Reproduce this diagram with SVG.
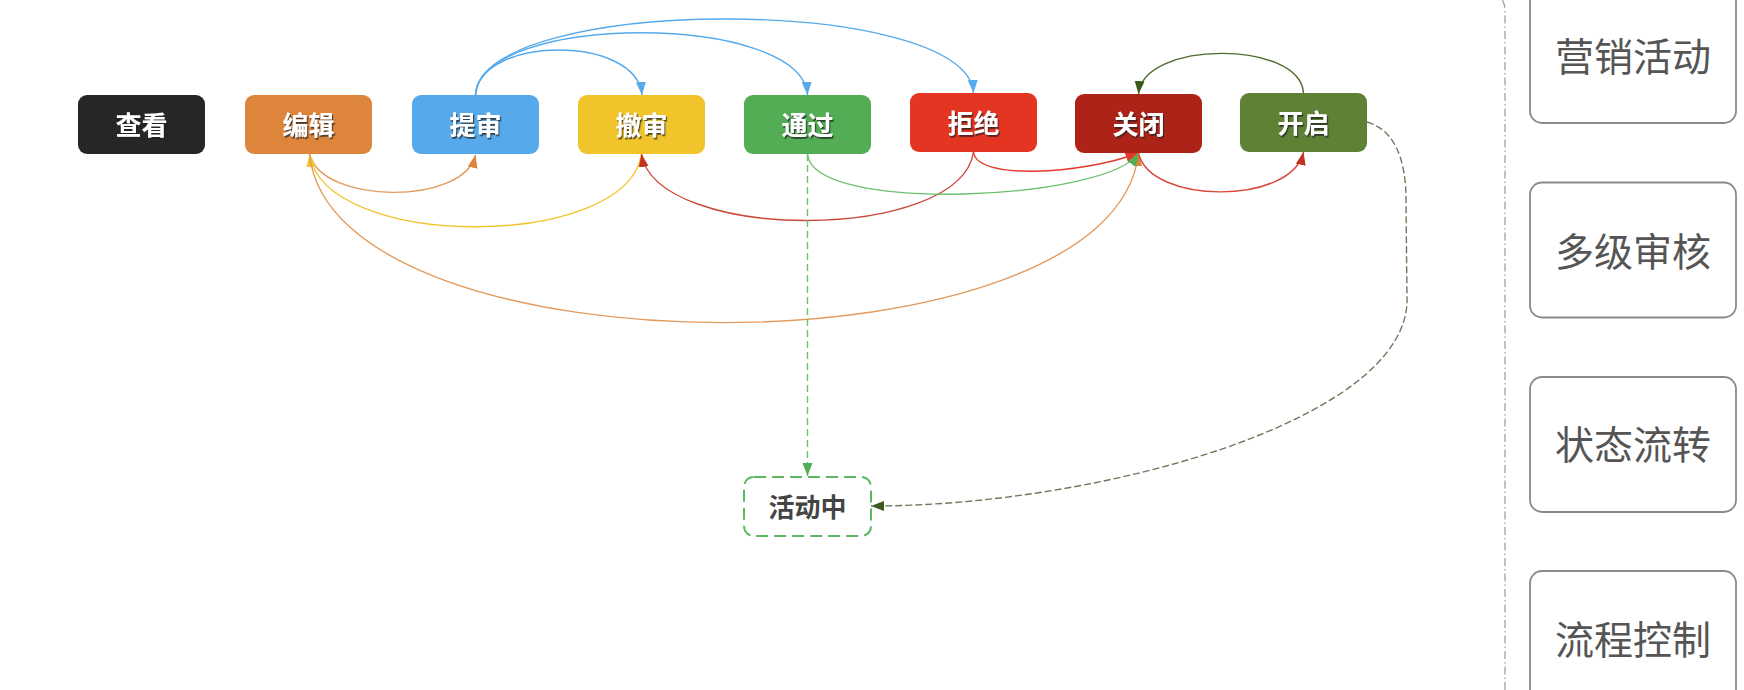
<svg xmlns="http://www.w3.org/2000/svg" width="1744" height="690" viewBox="0 0 1744 690">
<style>
.n text{font-family:"Noto Sans CJK SC","Liberation Sans",sans-serif;font-size:26px;font-weight:bold;fill:#fff;text-anchor:middle;dominant-baseline:central;filter:url(#ts)}
.r rect{fill:#fff;stroke:#8a8a8a;stroke-width:1.8}
.r text{font-family:"Noto Sans CJK SC","Liberation Sans",sans-serif;font-size:39px;fill:#555;text-anchor:middle;dominant-baseline:central}
#edges path{fill:none;stroke-width:1.4}
</style>
<defs>
<filter id="ts" x="-20%" y="-20%" width="140%" height="160%"><feDropShadow dx="1.2" dy="1.8" stdDeviation="0.6" flood-color="#222" flood-opacity="0.75"/></filter>
<marker id="mBlue" markerUnits="userSpaceOnUse" markerWidth="14" markerHeight="11" refX="13" refY="5" orient="auto"><path d="M0,0 L13,5 L0,10 z" fill="#56aaeb"/></marker>
<marker id="mOrange" markerUnits="userSpaceOnUse" markerWidth="14" markerHeight="11" refX="13" refY="5" orient="auto"><path d="M0,0 L13,5 L0,10 z" fill="#dd853b"/></marker>
<marker id="mYellow" markerUnits="userSpaceOnUse" markerWidth="14" markerHeight="11" refX="13" refY="5" orient="auto"><path d="M0,0 L13,5 L0,10 z" fill="#f2c42c"/></marker>
<marker id="mDRed" markerUnits="userSpaceOnUse" markerWidth="14" markerHeight="11" refX="13" refY="5" orient="auto"><path d="M0,0 L13,5 L0,10 z" fill="#c0321f"/></marker>
<marker id="mRed" markerUnits="userSpaceOnUse" markerWidth="14" markerHeight="11" refX="13" refY="5" orient="auto"><path d="M0,0 L13,5 L0,10 z" fill="#e5392a"/></marker>
<marker id="mGreen" markerUnits="userSpaceOnUse" markerWidth="14" markerHeight="11" refX="13" refY="5" orient="auto"><path d="M0,0 L13,5 L0,10 z" fill="#53ad54"/></marker>
<marker id="mDGreen" markerUnits="userSpaceOnUse" markerWidth="14" markerHeight="11" refX="13" refY="5" orient="auto"><path d="M0,0 L13,5 L0,10 z" fill="#3d5a1e"/></marker>
</defs>

<path d="M1505,690 V12 Q1505,2 1500,-4" fill="none" stroke="#999" stroke-width="1.2" stroke-dasharray="8 3 1.5 3"/>

<g id="edges">
<path d="M475.5,95 C480,35 637,35 642,95" stroke="#56aaeb" marker-end="url(#mBlue)"/>
<path d="M475.5,95 C480,12 802,12 807.5,95" stroke="#56aaeb" marker-end="url(#mBlue)"/>
<path d="M475.5,95 C480,-6 968,-6 973.5,93" stroke="#56aaeb" marker-end="url(#mBlue)"/>
<path d="M1303.5,93 C1300,40 1143,40 1138.5,94" stroke="#4d6b2e" marker-end="url(#mDGreen)"/>
<path d="M309.5,154 C322,205 464,205 475.5,155" stroke="#e39a5c" marker-end="url(#mOrange)"/>
<path d="M641.5,154 C627,251 324,251 309.5,154" stroke="#f2c42c" marker-end="url(#mYellow)"/>
<path d="M309.5,154 C332,379 1115,379 1138.5,153" stroke="#e39a5c" marker-end="url(#mOrange)"/>
<path d="M973.5,152 C960,243 656,243 641.5,154" stroke="#c94a3a" marker-end="url(#mDRed)"/>
<path d="M973.5,152 C976,180 1080,175 1138.5,153" stroke="#e5392a" marker-end="url(#mRed)"/>
<path d="M807.5,154 C812,215 1110,200 1138.5,153" stroke="#6cc06c" marker-end="url(#mGreen)"/>
<path d="M1138.5,153 C1150,205 1292,205 1303.5,152" stroke="#d9473a" marker-end="url(#mDRed)"/>
<path d="M807.5,154 V476" stroke="#6cc06c" stroke-dasharray="7 4" marker-end="url(#mGreen)"/>
<path d="M1367,122 C1395,130 1406,160 1406,200 L1407,300 C1407,420 1100,506 871,506" stroke="#6b7a5a" stroke-dasharray="7 3" marker-end="url(#mDGreen)"/>
</g>

<g id="n-chakan" class="n"><rect x="78" y="95" width="127" height="59" rx="9" fill="#262626"/><text x="141.5" y="123">查看</text></g>
<g id="n-bianji" class="n"><rect x="245" y="95" width="127" height="59" rx="9" fill="#dd853b"/><text x="308.5" y="123">编辑</text></g>
<g id="n-tishen" class="n"><rect x="412" y="95" width="127" height="59" rx="9" fill="#56aaeb"/><text x="475.5" y="123">提审</text></g>
<g id="n-cheshen" class="n"><rect x="578" y="95" width="127" height="59" rx="9" fill="#f2c42c"/><text x="641.5" y="123">撤审</text></g>
<g id="n-tongguo" class="n"><rect x="744" y="95" width="127" height="59" rx="9" fill="#53ad54"/><text x="807.5" y="123">通过</text></g>
<g id="n-jujue" class="n"><rect x="910" y="93" width="127" height="59" rx="9" fill="#e33522"/><text x="973.5" y="121">拒绝</text></g>
<g id="n-guanbi" class="n"><rect x="1075" y="94" width="127" height="59" rx="9" fill="#ad2318"/><text x="1138.5" y="122">关闭</text></g>
<g id="n-kaiqi" class="n"><rect x="1240" y="93" width="127" height="59" rx="9" fill="#5e8136"/><text x="1303.5" y="121">开启</text></g>
<g id="n-huodongzhong"><rect x="744" y="477" width="127" height="59" rx="10" fill="#fff" stroke="#5cb85c" stroke-width="2" stroke-dasharray="12 6"/><text x="807.5" y="505" style="font-family:'Noto Sans CJK SC','Liberation Sans',sans-serif;font-size:26px;font-weight:bold;fill:#444;text-anchor:middle;dominant-baseline:central">活动中</text></g>

<g id="r-yingxiao" class="r"><rect x="1530" y="-12" width="206" height="135" rx="12"/><text x="1633" y="54">营销活动</text></g>
<g id="r-duoji" class="r"><rect x="1530" y="182.5" width="206" height="135" rx="12"/><text x="1633" y="249">多级审核</text></g>
<g id="r-zhuangtai" class="r"><rect x="1530" y="377" width="206" height="135" rx="12"/><text x="1633" y="442">状态流转</text></g>
<g id="r-liucheng" class="r"><rect x="1530" y="571" width="206" height="135" rx="12"/><text x="1633" y="637">流程控制</text></g>
</svg>
